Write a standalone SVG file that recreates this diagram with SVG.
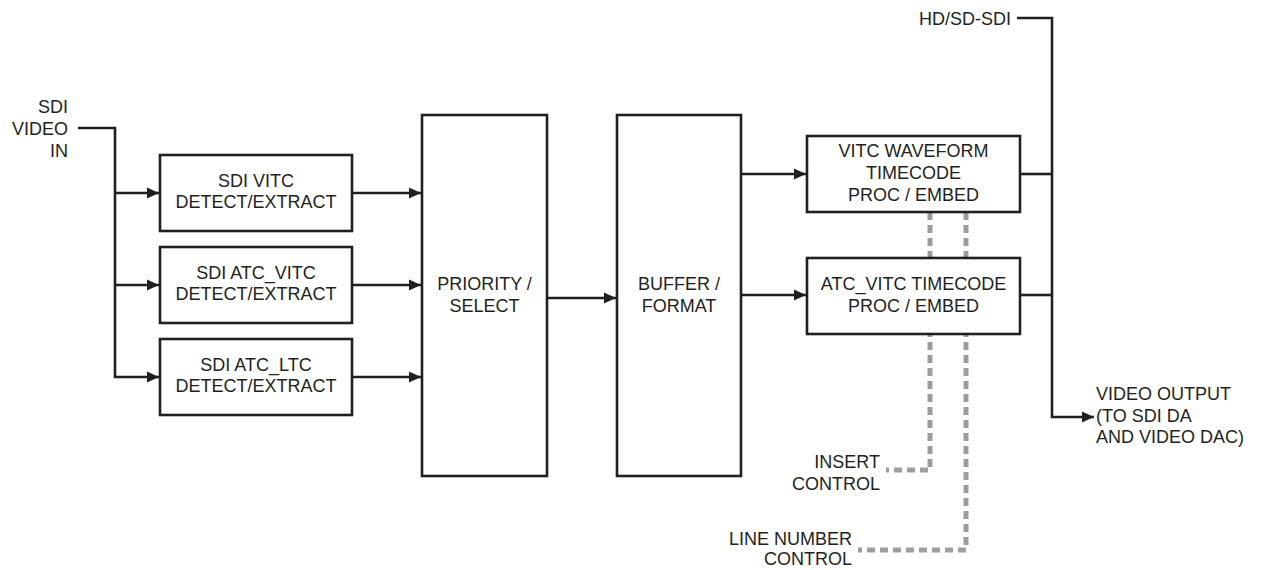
<svg xmlns="http://www.w3.org/2000/svg" width="1265" height="570" viewBox="0 0 1265 570">
<style>
text{font-family:"Liberation Sans",Arial,sans-serif;font-size:18px;fill:#231f20}
.box{fill:#fff;stroke:#231f20;stroke-width:2.6}
.ln{fill:none;stroke:#231f20;stroke-width:2.6}
.ar{marker-end:url(#ah)}
.dash{fill:none;stroke:#9d9d9f;stroke-width:5;stroke-dasharray:8 5}
.m{text-anchor:middle}
.e{text-anchor:end}
</style>
<defs>
<marker id="ah" markerUnits="userSpaceOnUse" markerWidth="13" markerHeight="13" refX="12" refY="6" orient="auto">
<path d="M0,0.5 L12,6 L0,11.5 z" fill="#231f20"/>
</marker>
</defs>
<g id="connectors">
<path class="dash" d="M930 212 V470 H886"/>
<path class="dash" d="M966 212 V550 H858"/>
<path class="ln" d="M78 128 H115 V377 H159" marker-end="url(#ah)"/>
<path class="ln ar" d="M115 193 H159"/>
<path class="ln ar" d="M115 285 H159"/>
<path class="ln ar" d="M352 193 H421"/>
<path class="ln ar" d="M352 285 H421"/>
<path class="ln ar" d="M352 377 H421"/>
<path class="ln ar" d="M547 298 H616"/>
<path class="ln ar" d="M741 174 H806"/>
<path class="ln ar" d="M741 295 H806"/>
<path class="ln" d="M1020 174 H1052"/>
<path class="ln" d="M1020 295 H1052"/>
<path class="ln" d="M1017 18 H1052 V417 H1094" marker-end="url(#ah)"/>
</g>
<g id="sdi-in">
<text class="e" x="68" y="113">SDI</text>
<text class="e" x="68" y="135">VIDEO</text>
<text class="e" x="68" y="157">IN</text>
</g>
<g id="sdi-vitc">
<rect class="box" x="160" y="155" width="192" height="76"/>
<text class="m" x="256" y="187">SDI VITC</text>
<text class="m" x="256" y="208">DETECT/EXTRACT</text>
</g>
<g id="sdi-atc-vitc">
<rect class="box" x="160" y="247" width="192" height="76"/>
<text class="m" x="256" y="279">SDI ATC_VITC</text>
<text class="m" x="256" y="300">DETECT/EXTRACT</text>
</g>
<g id="sdi-atc-ltc">
<rect class="box" x="160" y="339" width="192" height="76"/>
<text class="m" x="256" y="371">SDI ATC_LTC</text>
<text class="m" x="256" y="392">DETECT/EXTRACT</text>
</g>
<g id="priority">
<rect class="box" x="422" y="115" width="125" height="361"/>
<text class="m" x="484.5" y="290">PRIORITY /</text>
<text class="m" x="484.5" y="312">SELECT</text>
</g>
<g id="buffer">
<rect class="box" x="617" y="115" width="124" height="361"/>
<text class="m" x="679" y="290">BUFFER /</text>
<text class="m" x="679" y="312">FORMAT</text>
</g>
<g id="vitc-waveform">
<rect class="box" x="807" y="136" width="213" height="76"/>
<text class="m" x="913.5" y="157">VITC WAVEFORM</text>
<text class="m" x="913.5" y="179">TIMECODE</text>
<text class="m" x="913.5" y="201">PROC / EMBED</text>
</g>
<g id="atc-vitc-timecode">
<rect class="box" x="807" y="258" width="213" height="76"/>
<text class="m" x="913.5" y="290">ATC_VITC TIMECODE</text>
<text class="m" x="913.5" y="312">PROC / EMBED</text>
</g>
<g id="hd-sd-sdi">
<text class="e" x="1011" y="25">HD/SD-SDI</text>
</g>
<g id="video-output">
<text x="1096" y="400">VIDEO OUTPUT</text>
<text x="1096" y="422">(TO SDI DA</text>
<text x="1096" y="443">AND VIDEO DAC)</text>
</g>
<g id="insert-control">
<text class="e" x="880" y="468">INSERT</text>
<text class="e" x="880" y="490">CONTROL</text>
</g>
<g id="line-number-control">
<text class="e" x="852" y="545">LINE NUMBER</text>
<text class="e" x="852" y="565">CONTROL</text>
</g>
</svg>
